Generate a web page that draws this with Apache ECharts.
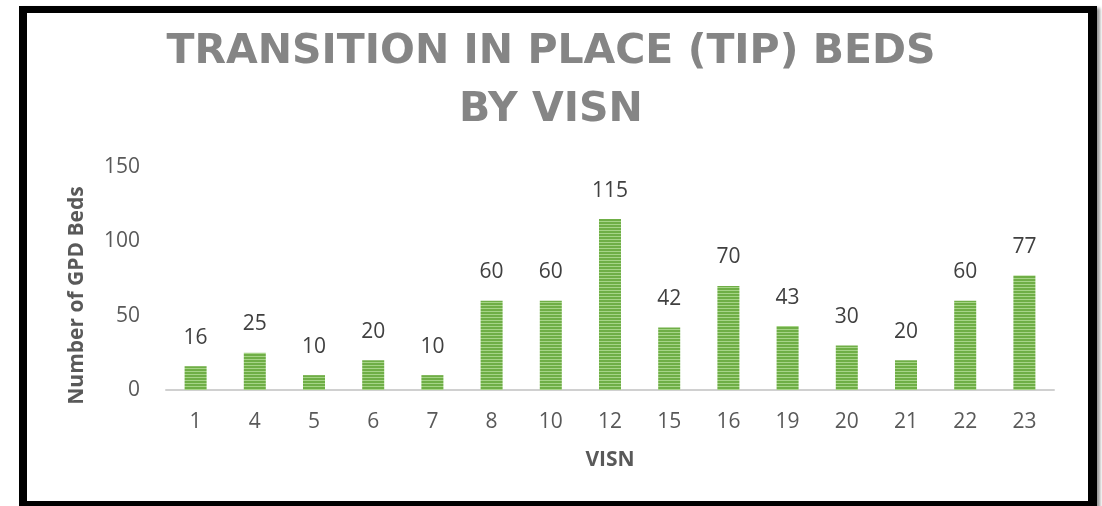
<!DOCTYPE html>
<html>
<head>
<meta charset="utf-8">
<script src="https://cdn.jsdelivr.net/npm/echarts@6/dist/echarts.min.js"></script>
<style>
html,body{margin:0;padding:0;background:#fff;}
#wrap{position:relative;width:1102px;height:506px;overflow:hidden;}
#chart{position:absolute;left:0;top:0;width:1102px;height:506px;}
#frame{position:absolute;left:19px;top:6px;width:1078px;height:503px;box-sizing:border-box;
  border-left:8px solid #000;border-top:7px solid #000;border-right:9px solid #000;border-bottom:8px solid #000;
  box-shadow:3px 2px 3px #999;pointer-events:none;}
</style>
</head>
<body>
<div id="wrap">
<div id="chart"></div>
<div id="frame"></div>
</div>
<script>
var titleText = "TRANSITION IN PLACE (TIP) BEDS\nBY VISN";
var categories = ["1","4","5","6","7","8","10","12","15","16","19","20","21","22","23"];
var beds = [16,25,10,20,10,60,60,115,42,70,43,30,20,60,77];
var yTicks = {min:0, max:150, interval:50};
var xName = "VISN";
var yName = "Number of GPD Beds";

function stripePattern(){
  var c = document.createElement('canvas');
  c.width = 4; c.height = 3;
  var ctx = c.getContext('2d');
  ctx.fillStyle = '#6fae46'; ctx.fillRect(0,0,4,3);
  ctx.fillStyle = '#a6d487'; ctx.fillRect(0,2,4,1);
  return c;
}

var chart = echarts.init(document.getElementById('chart'), null, {renderer:'canvas'});
chart.setOption({
  animation:false,
  backgroundColor:'#ffffff',
  title:{
    text:titleText,
    left:'center',
    top:18,
    textStyle:{fontFamily:'DejaVu Sans',fontWeight:'bold',fontSize:41,lineHeight:58,color:'#858585'}
  },
  grid:{left:166,right:48,top:167,bottom:116,containLabel:false},
  xAxis:{
    type:'category',
    data:categories,
    name:xName,
    nameLocation:'middle',
    nameGap:60,
    nameTextStyle:{fontFamily:'Open Sans',fontWeight:'bold',fontSize:21,color:'#595959'},
    axisLine:{lineStyle:{color:'#d0d0d0',width:2}},
    axisTick:{show:false},
    axisLabel:{fontFamily:'Open Sans',fontSize:21,color:'#595959',margin:22}
  },
  yAxis:{
    type:'value',
    min:yTicks.min,max:yTicks.max,interval:yTicks.interval,
    name:yName,
    nameLocation:'middle',
    nameGap:78,
    nameRotate:90,
    nameTextStyle:{fontFamily:'Open Sans',fontWeight:'bold',fontSize:21,color:'#595959',padding:[0,34,0,0]},
    axisLine:{show:false},
    axisTick:{show:false},
    splitLine:{show:false},
    axisLabel:{fontFamily:'Open Sans',fontSize:21,color:'#595959',margin:26}
  },
  series:[{
    type:'bar',
    data:beds,
    barWidth:22,
    itemStyle:{color:{image:stripePattern(),repeat:'repeat'}},
    label:{show:true,position:'top',distance:18,fontFamily:'Open Sans',fontSize:21,color:'#404040'}
  }]
});
</script>
</body>
</html>
